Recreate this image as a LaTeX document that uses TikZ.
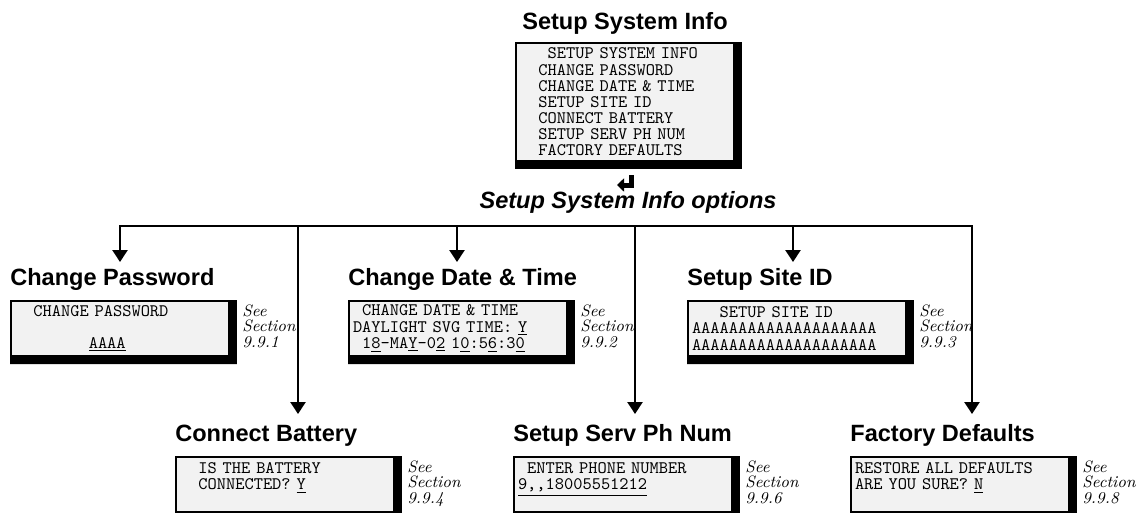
\documentclass[tikz,border=0pt]{standalone}
\usepackage{fontspec}
\usepackage{tikz}
\usetikzlibrary{arrows.meta,positioning,calc}
\newfontfamily\headfont{Liberation Sans}
\definecolor{lcdgray}{HTML}{F2F2F2}
\tikzset{
  lcd/.style={
    draw=black,
    fill=lcdgray,
    line width=0.04cm,
    anchor=north west,
    text width=4.2cm,
    inner xsep=0.08cm,
    inner ysep=0pt,
    minimum height=1.1cm,
    align=left,
    font=\ttfamily\fontsize{10}{9.2}\selectfont
  },
  head/.style={
    inner sep=0pt,
    font=\headfont\bfseries\fontsize{13.4}{16}\selectfont
  },
  seenote/.style={
    inner sep=0pt,
    anchor=north west,
    align=left,
    font=\itshape\fontsize{9.4}{9}\selectfont
  },
  wire/.style={line width=0.05cm},
  arrow/.style={
    -{Triangle[length=0.24cm,width=0.3cm]},
    wire
  }
}

\begin{document}
\begin{tikzpicture}[x=0.02cm,y=0.02cm]
\useasboundingbox (0,0) rectangle (1141,-512);
% main menu screen
\node[lcd, minimum height=2.36cm] (top) at (515,-42) {\hphantom{000}SETUP SYSTEM INFO\\
\hphantom{00}CHANGE PASSWORD\\
\hphantom{00}CHANGE DATE \& TIME\\
\hphantom{00}SETUP SITE ID\\
\hphantom{00}CONNECT BATTERY\\
\hphantom{00}SETUP SERV PH NUM\\
\hphantom{00}FACTORY DEFAULTS};
\node[head, above=0.14cm of top] (title) {Setup System Info};
\coordinate (ret) at (631,-175);
\draw[line width=0.1cm, -{Triangle[length=0.14cm,width=0.26cm]}] (ret) |- ++(-14,-10);
\node[head, anchor=base, font=\headfont\bfseries\itshape\fontsize{13.4}{16}\selectfont] (opts) at (628,-208) {Setup System Info options};

% option screens
\node[lcd] (pw) at (10,-300) {\hphantom{00}CHANGE PASSWORD\\ \mbox{}\\ \hphantom{00000000}\underline{AAAA}};
\node[lcd] (dt) at (348,-300) {\hphantom{0}CHANGE DATE \& TIME\\ DAYLIGHT SVG TIME: \underline{Y}\\ \hphantom{0}1\underline{8}-MA\underline{Y}-0\underline{2} 1\underline{0}:5\underline{6}:3\underline{0}};
\node[lcd] (site) at (687,-300) {\hphantom{000}SETUP SITE ID\\ AAAAAAAAAAAAAAAAAAAA\\ AAAAAAAAAAAAAAAAAAAA};
\node[lcd] (bat) at (175,-456) {\hphantom{00}IS THE BATTERY\\ \hphantom{00}CONNECTED? \underline{Y}\\ \mbox{}};
\node[lcd] (serv) at (513,-456) {\hphantom{0}ENTER PHONE NUMBER\\ \underline{9,\kern0pt,18005551212}\\ \mbox{}};
\node[lcd] (fd) at (850,-456) {RESTORE ALL DEFAULTS\\ ARE YOU SURE? \underline{N}\\ \mbox{}};
\foreach \b in {top,pw,dt,site,bat,serv,fd}
  \fill (\b.north east) -| ($(\b.south east)+(7,-7)$) -| (\b.south west) -- (\b.south east) -- cycle;

\node[head, above=0.18cm of pw.north west, anchor=south west] (pwhead) {Change Password};
\node[head, above=0.18cm of dt.north west, anchor=south west] (dthead) {Change Date \& Time};
\node[head, above=0.18cm of site.north west, anchor=south west] (sitehead) {Setup Site ID};
\node[head, above=0.18cm of bat.north west, anchor=south west] (bathead) {Connect Battery};
\node[head, above=0.18cm of serv.north west, anchor=south west] (servhead) {Setup Serv Ph Num};
\node[head, above=0.18cm of fd.north west, anchor=south west] (fdhead) {Factory Defaults};

\node[seenote] (pwsee) at ($(pw.north east)+(12,-4)$) {See\\Section\\9.9.1};
\node[seenote] (dtsee) at ($(dt.north east)+(12,-4)$) {See\\Section\\9.9.2};
\node[seenote] (sitesee) at ($(site.north east)+(12,-4)$) {See\\Section\\9.9.3};
\node[seenote] (batsee) at ($(bat.north east)+(12,-4)$) {See\\Section\\9.9.4};
\node[seenote] (servsee) at ($(serv.north east)+(12,-4)$) {See\\Section\\9.9.6};
\node[seenote] (fdsee) at ($(fd.north east)+(12,-4)$) {See\\Section\\9.9.8};

% bus and drops
\coordinate (bus) at (0,-226);
\coordinate (pwtip) at (120,-262);
\coordinate (battip) at (298,-414);
\coordinate (dttip) at (457,-262);
\coordinate (servtip) at (635,-414);
\coordinate (sitetip) at (793,-262);
\coordinate (fdtip) at (972,-414);
\draw[wire, line cap=rect] (pwtip |- bus) -- (fdtip |- bus);
\draw[arrow] (pwtip |- bus) -- (pwtip);
\draw[arrow] (battip |- bus) -- (battip);
\draw[arrow] (dttip |- bus) -- (dttip);
\draw[arrow] (servtip |- bus) -- (servtip);
\draw[arrow] (sitetip |- bus) -- (sitetip);
\draw[arrow] (fdtip |- bus) -- (fdtip);
\end{tikzpicture}
\end{document}
